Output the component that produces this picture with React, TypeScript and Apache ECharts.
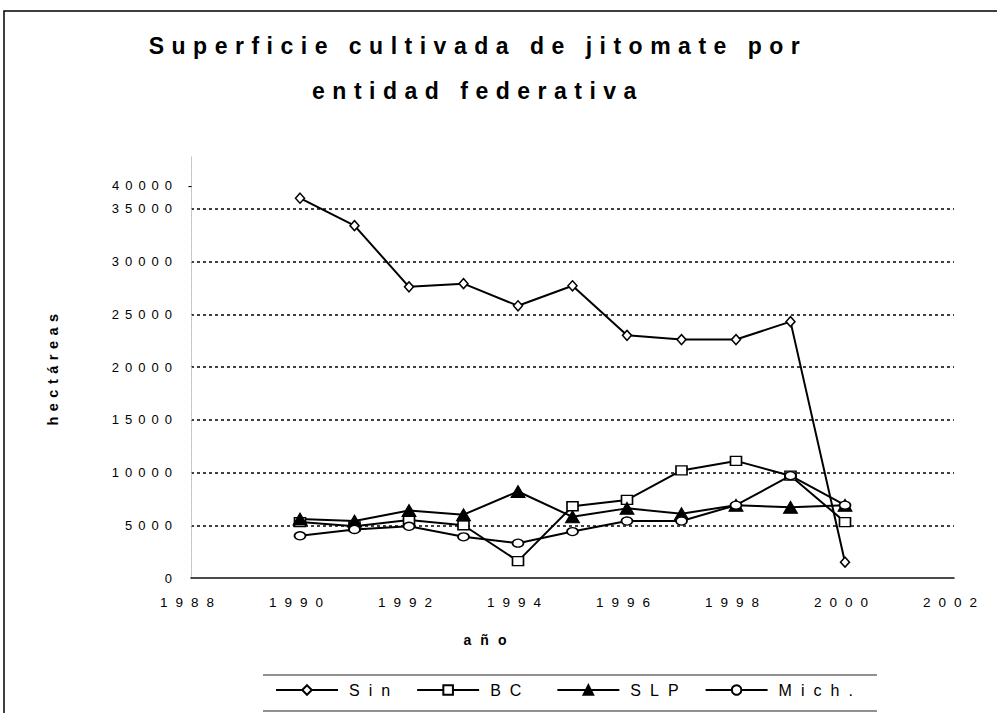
import React, { useEffect, useRef } from 'react';
import * as echarts from 'echarts';

const years = [1990, 1991, 1992, 1993, 1994, 1995, 1996, 1997, 1998, 1999, 2000];
const sinValues = [36000, 33400, 27600, 27900, 25800, 27700, 23000, 22600, 22600, 24300, 1500];
const bcValues = [5300, 4900, 5500, 5000, 1600, 6800, 7400, 10200, 11100, 9700, 5300];
const slpValues = [5600, 5400, 6400, 6000, 8200, 5800, 6600, 6100, 6900, 6700, 6900];
const michValues = [4000, 4600, 4900, 3900, 3300, 4400, 5400, 5400, 6900, 9700, 6900];
const seriesNames = ['Sin', 'BC', 'SLP', 'Mich.'];
const titleText = 'Superficie cultivada de jitomate por\nentidad federativa';
const xName = 'año';
const yName = 'hectáreas';
const xMin = 1988;
const xMax = 2002;
const xStep = 2;
const yMin = 0;
const yMax = 40000;
const yStep = 5000;

const FONT = '"Liberation Sans", Arial, sans-serif';

const pairs = (vals: number[]) => years.map((y, i) => [y, vals[i]]);

export default function App() {
  const ref = useRef<HTMLDivElement>(null);

  useEffect(() => {
    if (!ref.current) return;
    const chart = echarts.init(ref.current, undefined, { renderer: 'svg' });
    const lineStyle = { color: '#000', width: 2 };
    const hollow = { color: '#fff', borderColor: '#000', borderWidth: 1.5 };
    chart.setOption({
      animation: false,
      backgroundColor: '#fff',
      title: {
        text: titleText,
        left: 478,
        textAlign: 'center',
        top: 23,
        padding: 0,
        textStyle: {
          fontFamily: FONT,
          fontSize: 23,
          fontWeight: 'bold',
          color: '#000',
          lineHeight: 45,
        },
      },
      grid: { left: 191, right: 43, top: 156, bottom: 135 },
      legend: {
        data: seriesNames,
        left: 275,
        top: 682,
        padding: 0,
        itemWidth: 62,
        itemHeight: 12,
        itemGap: 44,
        textStyle: { fontFamily: FONT, fontSize: 16, color: '#000', padding: [0, 0, 0, 6] },
      },
      xAxis: {
        type: 'value',
        min: xMin,
        max: xMax,
        interval: xStep,
        name: xName,
        nameLocation: 'middle',
        nameGap: 55,
        nameTextStyle: {
          fontFamily: FONT,
          fontSize: 14,
          fontWeight: 'bold',
          color: '#000',
          padding: [0, 166, 0, 0],
        },
        axisLine: { show: true, onZero: false, lineStyle: { color: '#111', width: 1.5 } },
        axisTick: { show: false },
        splitLine: { show: false },
        axisLabel: {
          margin: 17,
          fontFamily: FONT,
          fontSize: 13.5,
          color: '#000',
          formatter: (v: number) => String(v),
        },
      },
      yAxis: {
        type: 'value',
        min: yMin,
        max: yMax,
        interval: yStep,
        name: yName,
        nameLocation: 'middle',
        nameGap: 131,
        nameTextStyle: { fontFamily: FONT, fontSize: 14.5, fontWeight: 'bold', color: '#000' },
        axisLine: { show: true, lineStyle: { color: '#bbb', type: 'dotted', width: 1 } },
        axisTick: { show: false },
        axisLabel: {
          margin: 13,
          fontFamily: FONT,
          fontSize: 13,
          color: '#000',
          showMaxLabel: true,
          formatter: (v: number) => (v === yMax ? '{t|' + v + ' -}' : String(v)),
          rich: {
            t: {
              fontFamily: FONT,
              fontSize: 13,
              color: '#000',
              align: 'left',
              padding: [58, 22, 0, 0],
            },
          },
        },
        splitLine: {
          show: true,
          lineStyle: {
            color: ['transparent', '#000', '#000', '#000', '#000', '#000', '#000', '#000', 'transparent'],
            type: [3, 3],
            width: 1.5,
          },
        },
      },
      graphic: [
        {
          type: 'rect',
          silent: true,
          shape: { x: 4, y: 11, width: 1000, height: 720 },
          style: { fill: 'none', stroke: '#000', lineWidth: 1.5 },
        },
        {
          type: 'line',
          silent: true,
          shape: { x1: 263, y1: 675, x2: 877, y2: 675 },
          style: { stroke: '#222', lineWidth: 1.2 },
        },
        {
          type: 'line',
          silent: true,
          shape: { x1: 263, y1: 711, x2: 877, y2: 711 },
          style: { stroke: '#222', lineWidth: 1.2 },
        },
      ],
      series: [
        {
          name: seriesNames[0],
          type: 'line',
          data: pairs(sinValues),
          symbol: 'diamond',
          symbolSize: [9, 10],
          lineStyle,
          itemStyle: hollow,
        },
        {
          name: seriesNames[1],
          type: 'line',
          data: pairs(bcValues),
          symbol: 'rect',
          symbolSize: [11, 9],
          lineStyle,
          itemStyle: hollow,
        },
        {
          name: seriesNames[2],
          type: 'line',
          data: pairs(slpValues),
          symbol: 'triangle',
          symbolSize: [14, 12],
          lineStyle,
          itemStyle: { color: '#000', borderColor: '#000', borderWidth: 1 },
        },
        {
          name: seriesNames[3],
          type: 'line',
          data: pairs(michValues),
          symbol: 'circle',
          symbolSize: [11, 8],
          lineStyle,
          itemStyle: hollow,
        },
      ],
    });
    return () => chart.dispose();
  }, []);

  return (
    <>
      <style>{`
        #chart text[style*="23px"] { letter-spacing: 7.5px; }
        #chart text[style*="13px"] { letter-spacing: 6px; }
        #chart text[style*="13.5px"] { letter-spacing: 8px; }
        #chart text[style*="16px"] { letter-spacing: 9px; }
        #chart text[style*="14px"] { letter-spacing: 9px; }
        #chart text[style*="14.5px"] { letter-spacing: 5.5px; }
      `}</style>
      <div
        id="chart"
        ref={ref}
        style={{ position: 'absolute', left: 0, top: 0, width: 997, height: 713 }}
      />
    </>
  );
}
